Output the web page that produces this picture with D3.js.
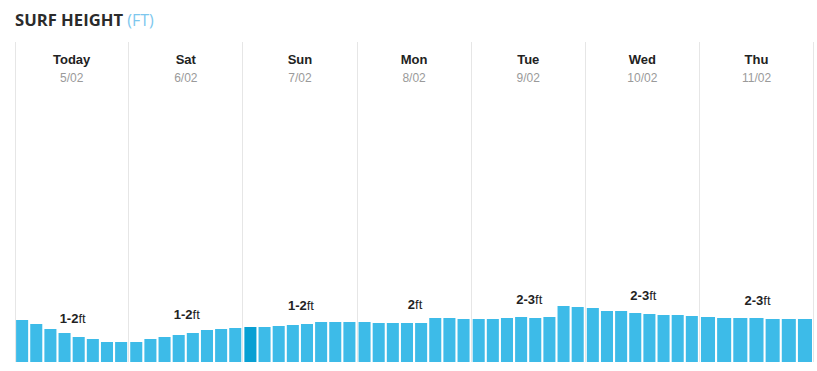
<!DOCTYPE html>
<html><head><meta charset="utf-8">
<script src="https://cdn.jsdelivr.net/npm/d3@7"></script>
<style>
html,body{margin:0;padding:0;background:#fff;}
svg{display:block;}
</style></head>
<body>
<svg id="chart" width="817" height="371"></svg>
<script>
const dayNames = ["Today", "Sat", "Sun", "Mon", "Tue", "Wed", "Thu"];
const dayDates = ["5/02", "6/02", "7/02", "8/02", "9/02", "10/02", "11/02"];
const rangeBold = ["1-2", "1-2", "1-2", "2", "2-3", "2-3", "2-3"];
const rangeUnit = "ft";
// wave heights (ft), one value per 3-hour slot
const heightsToday = [2.1, 1.9, 1.65, 1.45, 1.25, 1.15, 1.0, 1.0];
const heightsSat   = [1.0, 1.15, 1.25, 1.35, 1.45, 1.6, 1.65, 1.7];
const heightsSun   = [1.75, 1.75, 1.8, 1.85, 1.9, 2.0, 2.0, 2.0];
const heightsMon   = [2.0, 1.95, 1.95, 1.95, 1.95, 2.2, 2.2, 2.15];
const heightsTue   = [2.15, 2.15, 2.2, 2.25, 2.2, 2.25, 2.8, 2.75];
const heightsWed   = [2.7, 2.55, 2.55, 2.45, 2.4, 2.35, 2.35, 2.3];
const heightsThu   = [2.25, 2.2, 2.2, 2.2, 2.15, 2.15, 2.15];
const currentSlot = {day: 2, slot: 0};

const heights = [heightsToday, heightsSat, heightsSun, heightsMon, heightsTue, heightsWed, heightsThu];

const svg = d3.select("#chart");
const plotLeft = 14.6, plotRight = 813.6, plotTop = 42, plotBottom = 362;

const x = d3.scaleBand().domain(d3.range(dayNames.length)).range([plotLeft, plotRight]).padding(0);
const y = d3.scaleLinear().domain([0, 3]).range([plotBottom, 302]);

// title
const title = svg.append("text").attr("x", 15).attr("y", 26)
  .style("font-family", "'Open Sans', 'DejaVu Sans', sans-serif").style("font-size", "16px");
title.append("tspan").text("SURF HEIGHT").attr("font-weight", "700").attr("fill", "#2b2b2b")
  .attr("textLength", 108).attr("lengthAdjust", "spacingAndGlyphs");
title.append("tspan").text(" (FT)").attr("font-weight", "400").attr("fill", "#7dc7ee");

// vertical separators
const seps = d3.range(dayNames.length + 1).map(i => i < dayNames.length ? x(i) : x(dayNames.length - 1) + x.bandwidth());
svg.append("g").selectAll("line").data(seps).join("line")
  .attr("x1", (d, i) => (i === 0 ? 15 : Math.floor(d)) + 0.5)
  .attr("x2", (d, i) => (i === 0 ? 15 : Math.floor(d)) + 0.5)
  .attr("y1", plotTop).attr("y2", plotBottom)
  .attr("stroke", "#e6e6e6").attr("stroke-width", 1);

const days = svg.append("g").selectAll("g").data(dayNames).join("g");

// day name + date
days.append("text")
  .attr("x", (d, i) => x(i) + x.bandwidth() / 2).attr("y", 63.5)
  .attr("text-anchor", "middle")
  .style("font-family", "'Liberation Sans', Arial, sans-serif").style("font-size", "13px")
  .attr("font-weight", "700").attr("fill", "#222").text(d => d);
days.append("text")
  .attr("x", (d, i) => x(i) + x.bandwidth() / 2).attr("y", 82)
  .attr("text-anchor", "middle")
  .style("font-family", "'Liberation Sans', Arial, sans-serif").style("font-size", "12px")
  .attr("fill", "#9a9a9a").text((d, i) => dayDates[i]);

// bars
days.each(function(d, i) {
  const vals = heights[i];
  const n = vals.length;
  const step = (x.bandwidth() - 1) / n;
  const g = d3.select(this);
  g.selectAll("rect").data(vals).join("rect")
    .attr("x", (v, j) => x(i) + 1.5 + j * step)
    .attr("width", step - 2.1)
    .attr("y", v => y(v))
    .attr("height", v => y(0) - y(v))
    .attr("fill", (v, j) => (i === currentSlot.day && j === currentSlot.slot) ? "#08a0d3" : "#3dbbe8");
  const ref = vals[Math.min(4, n - 1)];
  const lbl = g.append("text")
    .attr("x", x(i) + x.bandwidth() / 2 + 1).attr("y", y(ref) - 14)
    .attr("text-anchor", "middle")
    .style("font-family", "'Liberation Sans', Arial, sans-serif").style("font-size", "13px")
    .attr("fill", "#222");
  lbl.append("tspan").attr("font-weight", "700").text(rangeBold[i]);
  lbl.append("tspan").attr("font-weight", "400").text(rangeUnit);
});
</script>
</body></html>
